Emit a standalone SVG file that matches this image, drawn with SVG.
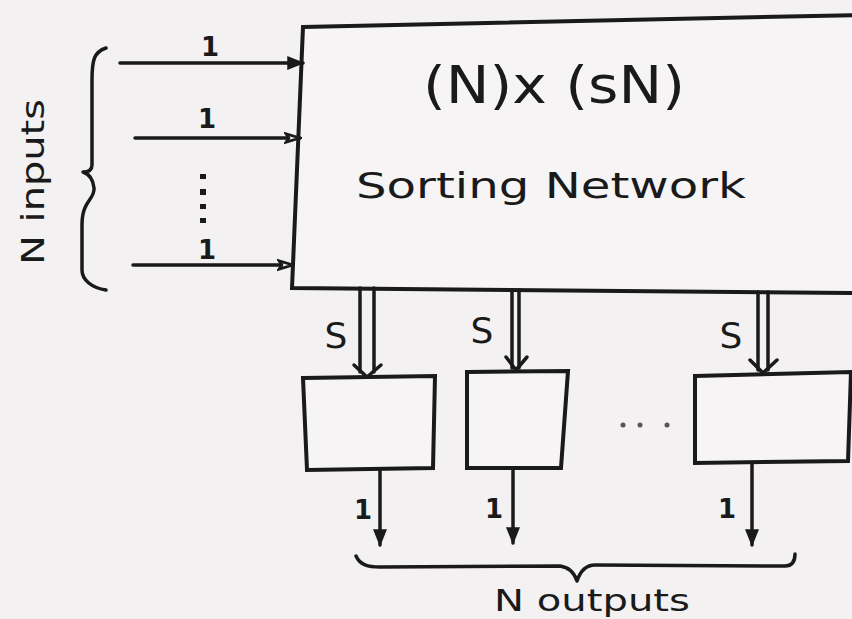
<svg xmlns="http://www.w3.org/2000/svg" width="852" height="619" viewBox="0 0 852 619">
<defs>
<style>
.ln{stroke:#1a1a1a;stroke-width:3.5;fill:none;stroke-linecap:round;stroke-linejoin:round}
.bx{stroke:#1a1a1a;stroke-width:4;fill:#f6f4f5}
.t{font-family:"DejaVu Sans","Liberation Sans",sans-serif;fill:#1a1a1a}
.lab{font-size:26px;font-weight:bold}
.s{font-size:36px}
</style>
<marker id="fill" viewBox="0 0 10 10" refX="9" refY="5" markerWidth="5" markerHeight="5" orient="auto" markerUnits="strokeWidth">
<path d="M0,1 L10,5 L0,9 Z" fill="#1a1a1a"/>
</marker>
<marker id="open" viewBox="0 0 12 10" refX="11" refY="5" markerWidth="5" markerHeight="4" orient="auto" markerUnits="strokeWidth">
<path d="M1,2 L11,5 L1,8 L3,5 Z" fill="#f6f4f5" stroke="#1a1a1a" stroke-width="2"/>
</marker>
</defs>
<rect width="852" height="619" fill="#f3f1f2"/>

<g id="sorting-network">
<path class="bx" d="M303,27 L860,15 L860,293 L292,288 Z"/>
<text class="t" x="423" y="103" font-size="52" textLength="262" lengthAdjust="spacingAndGlyphs">(N)x (sN)</text>
<text class="t" x="356" y="198" font-size="36" textLength="390" lengthAdjust="spacingAndGlyphs">Sorting  Network</text>
</g>

<g id="box1"><path class="bx" d="M303,378 L435,376 L433,468 L307,470 Z"/></g>
<g id="box2"><path class="bx" d="M467,372 L568,371 L561,468 L467,468 Z"/></g>
<g id="box3"><path class="bx" d="M695,376 L851,372 L848,461 L695,463 Z"/></g>

<g id="connectors">
<line class="ln" x1="120" y1="63" x2="303" y2="63" marker-end="url(#fill)"/>
<line class="ln" x1="135" y1="138" x2="300" y2="138" marker-end="url(#open)"/>
<line class="ln" x1="133" y1="265" x2="293" y2="265" marker-end="url(#open)"/>

<g class="bus">
<line class="ln" x1="360" y1="288" x2="360" y2="372"/>
<line class="ln" x1="374" y1="288" x2="374" y2="372"/>
<path class="ln" d="M354,365 L367,377 L381,365"/>
<line class="ln" x1="512" y1="290" x2="512" y2="368"/>
<line class="ln" x1="519" y1="290" x2="519" y2="368"/>
<path class="ln" d="M506,357 L516,370 L527,357"/>
<line class="ln" x1="758" y1="292" x2="758" y2="370"/>
<line class="ln" x1="768" y1="292" x2="768" y2="370"/>
<path class="ln" d="M750,360 L763,373 L777,360"/>
</g>

<line class="ln" x1="380" y1="470" x2="380" y2="545" marker-end="url(#fill)"/>
<line class="ln" x1="513" y1="468" x2="513" y2="543" marker-end="url(#fill)"/>
<line class="ln" x1="752" y1="463" x2="752" y2="545" marker-end="url(#fill)"/>
</g>

<g id="labels">
<text class="t lab" x="210" y="56" text-anchor="middle">1</text>
<text class="t lab" x="207" y="128" text-anchor="middle">1</text>
<text class="t lab" x="207" y="259" text-anchor="middle">1</text>
<g fill="#1a1a1a">
<rect x="200" y="174" width="6" height="5"/>
<rect x="200" y="189" width="6" height="6"/>
<rect x="200" y="204" width="6" height="5"/>
<rect x="200" y="218" width="6" height="5"/>
</g>
<text class="t s" x="336" y="348" text-anchor="middle">S</text>
<text class="t s" x="482" y="343" text-anchor="middle">S</text>
<text class="t s" x="731" y="348" text-anchor="middle">S</text>
<g fill="#555">
<circle cx="623" cy="425" r="2.5"/>
<circle cx="640" cy="425" r="2.5"/>
<circle cx="667" cy="425" r="2.5"/>
</g>
<text class="t lab" x="363" y="519" text-anchor="middle">1</text>
<text class="t lab" x="494" y="518" text-anchor="middle">1</text>
<text class="t lab" x="727" y="518" text-anchor="middle">1</text>
<text class="t" x="44" y="182" font-size="32" text-anchor="middle" textLength="166" lengthAdjust="spacingAndGlyphs" transform="rotate(-90 44 182)">N inputs</text>
<text class="t" x="494" y="611" font-size="30" textLength="196" lengthAdjust="spacingAndGlyphs">N outputs</text>
</g>

<g id="braces">
<path class="ln" d="M106,48 C94,52 92,60 92,80 L92,165 C92,170 89,172 83,172 C89,174 93,178 94,188 C95,200 82,200 82,225 L82,270 C82,280 92,288 106,290"/>
<path class="ln" d="M356,556 C360,565 368,567 380,567 L560,566 C568,567 574,572 577,581 C580,572 585,565 595,565 L785,566 C792,566 795,562 795,554"/>
</g>
</svg>
